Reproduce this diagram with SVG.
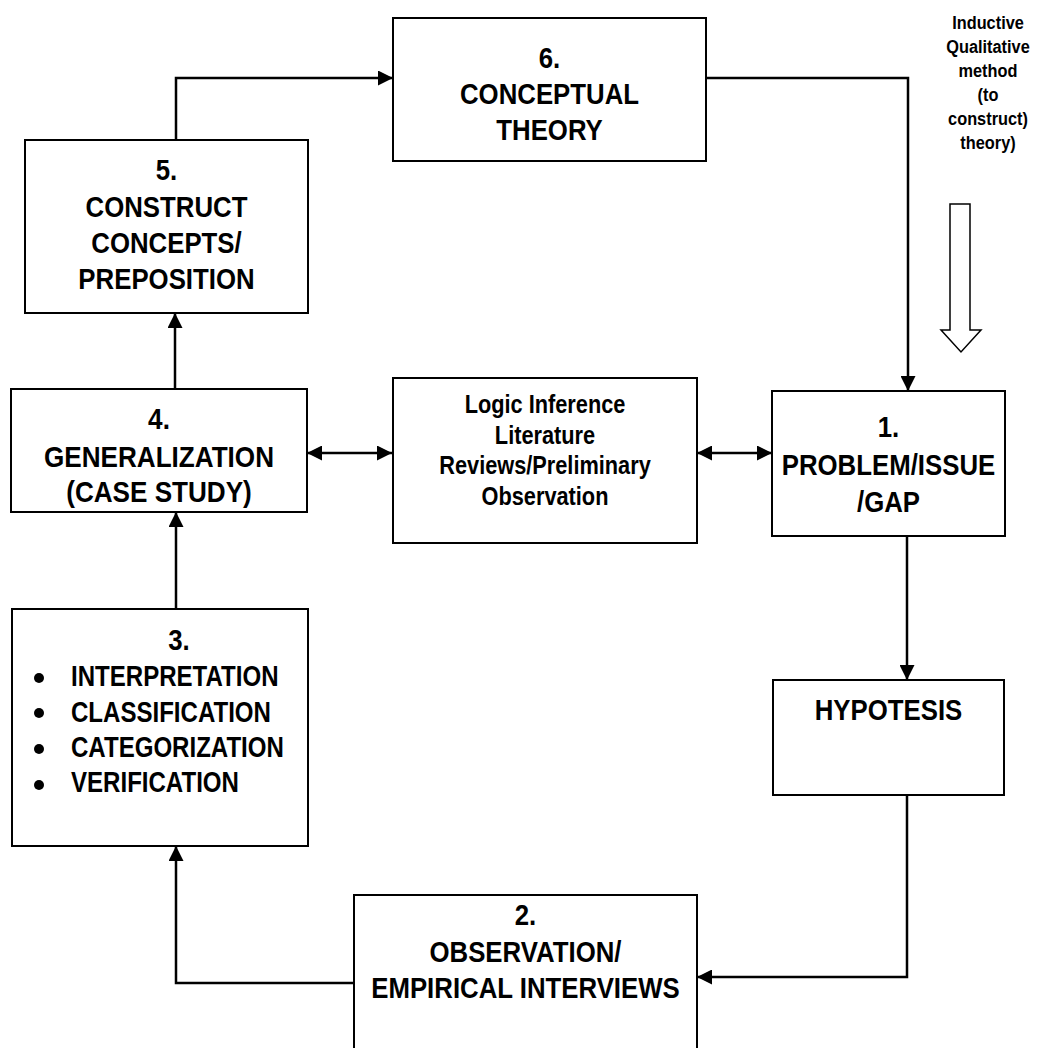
<svg xmlns="http://www.w3.org/2000/svg" width="1043" height="1048" viewBox="0 0 1043 1048">
<style>
  .box { fill: #ffffff; stroke: #000000; stroke-width: 2; }
  .t { font-family: "Liberation Sans", Arial, sans-serif; font-weight: bold; font-size: 30px; fill: #000000; text-anchor: middle; }
  .ts { font-size: 25px; }
  .tl { font-size: 19px; }
  .t3 { font-size: 29px; }
  .tb { text-anchor: start; }
  .ln { fill: none; stroke: #000000; stroke-width: 2.5; }
  .hollow { fill: #ffffff; stroke: #000000; stroke-width: 1.5; }
</style>
<defs>
  <marker id="ah" markerUnits="userSpaceOnUse" markerWidth="16" markerHeight="15" refX="15" refY="7.5" orient="auto-start-reverse" viewBox="0 0 16 15">
    <path d="M0,0 L15,7.5 L0,15 Z" fill="#000000"/>
  </marker>
</defs>
<rect width="1043" height="1048" fill="#ffffff"/>

<g id="connectors">
  <path class="ln" d="M176,140 V78 H393" marker-end="url(#ah)"/>
  <path class="ln" d="M706,78 H908 V391" marker-end="url(#ah)"/>
  <path class="ln" d="M175,389 V313" marker-end="url(#ah)"/>
  <path class="ln" d="M176,609 V512" marker-end="url(#ah)"/>
  <path class="ln" d="M307,453 H392" marker-start="url(#ah)" marker-end="url(#ah)"/>
  <path class="ln" d="M697,453 H772" marker-start="url(#ah)" marker-end="url(#ah)"/>
  <path class="ln" d="M907,536 V680" marker-end="url(#ah)"/>
  <path class="ln" d="M907,795 V977 H697" marker-end="url(#ah)"/>
  <path class="ln" d="M354,983 H176 V846" marker-end="url(#ah)"/>
</g>

<g id="node6">
  <rect class="box" x="393" y="18" width="313" height="143"/>
  <text class="t" transform="translate(549.5 68) scale(0.86 1)">6.</text>
  <text class="t" transform="translate(549.5 104) scale(0.86 1)">CONCEPTUAL</text>
  <text class="t" transform="translate(549.5 140) scale(0.86 1)">THEORY</text>
</g>

<g id="node5">
  <rect class="box" x="25" y="140" width="283" height="173"/>
  <text class="t" transform="translate(166.5 180) scale(0.86 1)">5.</text>
  <text class="t" transform="translate(166.5 217) scale(0.86 1)">CONSTRUCT</text>
  <text class="t" transform="translate(166.5 253) scale(0.86 1)">CONCEPTS/</text>
  <text class="t" transform="translate(166.5 289) scale(0.86 1)">PREPOSITION</text>
</g>

<g id="node4">
  <rect class="box" x="11" y="389" width="296" height="123"/>
  <text class="t" transform="translate(159 429) scale(0.87 1)">4.</text>
  <text class="t" transform="translate(159 467) scale(0.87 1)">GENERALIZATION</text>
  <text class="t" transform="translate(159 502) scale(0.87 1)">(CASE STUDY)</text>
</g>

<g id="logic">
  <rect class="box" x="393" y="378" width="304" height="165"/>
  <text class="t ts" transform="translate(545 413) scale(0.87 1)">Logic Inference</text>
  <text class="t ts" transform="translate(545 444) scale(0.87 1)">Literature</text>
  <text class="t ts" transform="translate(545 474) scale(0.87 1)">Reviews/Preliminary</text>
  <text class="t ts" transform="translate(545 505) scale(0.87 1)">Observation</text>
</g>

<g id="node1">
  <rect class="box" x="772" y="391" width="233" height="145"/>
  <text class="t" transform="translate(888.5 437) scale(0.86 1)">1.</text>
  <text class="t" transform="translate(888.5 475) scale(0.86 1)">PROBLEM/ISSUE</text>
  <text class="t" transform="translate(888.5 512) scale(0.86 1)">/GAP</text>
</g>

<g id="hypothesis">
  <rect class="box" x="773" y="680" width="231" height="115"/>
  <text class="t" transform="translate(888.5 720) scale(0.86 1)">HYPOTESIS</text>
</g>

<g id="node3">
  <rect class="box" x="12" y="609" width="296" height="237"/>
  <text class="t" transform="translate(179 650) scale(0.86 1)">3.</text>
  <circle cx="39" cy="678" r="5"/>
  <circle cx="39" cy="713" r="5"/>
  <circle cx="39" cy="749" r="5"/>
  <circle cx="39" cy="785" r="5"/>
  <text class="t t3 tb" transform="translate(71 686) scale(0.83 1)">INTERPRETATION</text>
  <text class="t t3 tb" transform="translate(71 722) scale(0.83 1)">CLASSIFICATION</text>
  <text class="t t3 tb" transform="translate(71 757) scale(0.83 1)">CATEGORIZATION</text>
  <text class="t t3 tb" transform="translate(71 792) scale(0.83 1)">VERIFICATION</text>
</g>

<g id="node2">
  <rect class="box" x="354" y="895" width="343" height="160"/>
  <text class="t" transform="translate(525.5 925) scale(0.86 1)">2.</text>
  <text class="t" transform="translate(525.5 962) scale(0.86 1)">OBSERVATION/</text>
  <text class="t" transform="translate(525.5 998) scale(0.86 1)">EMPIRICAL INTERVIEWS</text>
</g>

<g id="inductive-note">
  <text class="t tl" transform="translate(988 29) scale(0.86 1)">Inductive</text>
  <text class="t tl" transform="translate(988 53) scale(0.86 1)">Qualitative</text>
  <text class="t tl" transform="translate(988 77) scale(0.86 1)">method</text>
  <text class="t tl" transform="translate(988 101) scale(0.86 1)">(to</text>
  <text class="t tl" transform="translate(988 125) scale(0.86 1)">construct)</text>
  <text class="t tl" transform="translate(988 149) scale(0.86 1)">theory)</text>
  <polygon class="hollow" points="950,204 970,204 970,330 981,330 961,352 941,330 950,330"/>
</g>
</svg>
